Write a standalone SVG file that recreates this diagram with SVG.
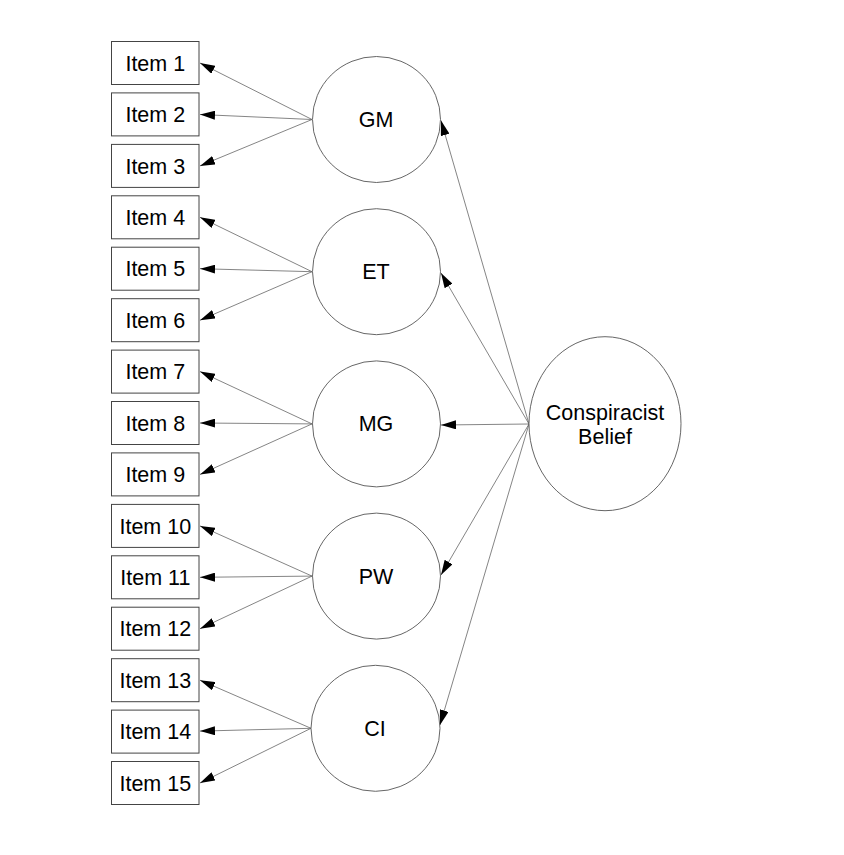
<svg xmlns="http://www.w3.org/2000/svg" width="844" height="855" viewBox="0 0 844 855">
<style>
.box{fill:#fff;stroke:#444;stroke-width:1}
.lat{fill:#fff;stroke:#555;stroke-width:0.9}
.t{font-family:"Liberation Sans",Arial,sans-serif;font-size:21.5px;fill:#000;text-anchor:middle}
.c{stroke:#666;stroke-width:0.8;fill:none;marker-end:url(#ah)}
</style>
<defs>
<marker id="ah" markerUnits="userSpaceOnUse" markerWidth="15" markerHeight="9" refX="15" refY="4.5" orient="auto" viewBox="0 0 15 9">
<path d="M0,0 L15,4.5 L0,9 z" fill="#000"/>
</marker>
</defs>
<rect width="844" height="855" fill="#fff"/>
<g id="connectors">
<line class="c" x1="312" y1="119.5" x2="200" y2="63"/>
<line class="c" x1="312" y1="119.5" x2="200" y2="114.5"/>
<line class="c" x1="312" y1="119.5" x2="200" y2="165.9"/>
<line class="c" x1="312" y1="271.7" x2="200" y2="217.3"/>
<line class="c" x1="312" y1="271.7" x2="200" y2="268.7"/>
<line class="c" x1="312" y1="271.7" x2="200" y2="320.2"/>
<line class="c" x1="312" y1="423.9" x2="200" y2="371.6"/>
<line class="c" x1="312" y1="423.9" x2="200" y2="423"/>
<line class="c" x1="312" y1="423.9" x2="200" y2="474.4"/>
<line class="c" x1="312" y1="576.1" x2="200" y2="525.9"/>
<line class="c" x1="312" y1="576.1" x2="200" y2="577.3"/>
<line class="c" x1="312" y1="576.1" x2="200" y2="628.7"/>
<line class="c" x1="311" y1="728.3" x2="200" y2="680.2"/>
<line class="c" x1="311" y1="728.3" x2="200" y2="731.1"/>
<line class="c" x1="311" y1="728.3" x2="200" y2="783"/>
<line class="c" x1="529" y1="424" x2="441" y2="120.5"/>
<line class="c" x1="529" y1="424" x2="441" y2="273"/>
<line class="c" x1="529" y1="424" x2="441" y2="425"/>
<line class="c" x1="529" y1="424" x2="441" y2="575"/>
<line class="c" x1="529" y1="424" x2="440" y2="725"/>
</g>
<g id="item1"><rect class="box" x="111.5" y="41.5" width="87.5" height="43"/><text class="t" x="155.3" y="70.7">Item 1</text></g>
<g id="item2"><rect class="box" x="111.5" y="92.9" width="87.5" height="43"/><text class="t" x="155.3" y="122.1">Item 2</text></g>
<g id="item3"><rect class="box" x="111.5" y="144.4" width="87.5" height="43"/><text class="t" x="155.3" y="173.6">Item 3</text></g>
<g id="item4"><rect class="box" x="111.5" y="195.8" width="87.5" height="43"/><text class="t" x="155.3" y="225">Item 4</text></g>
<g id="item5"><rect class="box" x="111.5" y="247.2" width="87.5" height="43"/><text class="t" x="155.3" y="276.4">Item 5</text></g>
<g id="item6"><rect class="box" x="111.5" y="298.7" width="87.5" height="43"/><text class="t" x="155.3" y="327.9">Item 6</text></g>
<g id="item7"><rect class="box" x="111.5" y="350.1" width="87.5" height="43"/><text class="t" x="155.3" y="379.3">Item 7</text></g>
<g id="item8"><rect class="box" x="111.5" y="401.5" width="87.5" height="43"/><text class="t" x="155.3" y="430.7">Item 8</text></g>
<g id="item9"><rect class="box" x="111.5" y="452.9" width="87.5" height="43"/><text class="t" x="155.3" y="482.1">Item 9</text></g>
<g id="item10"><rect class="box" x="111.5" y="504.4" width="87.5" height="43"/><text class="t" x="155.3" y="533.6">Item 10</text></g>
<g id="item11"><rect class="box" x="111.5" y="555.8" width="87.5" height="43"/><text class="t" x="155.3" y="585">Item 11</text></g>
<g id="item12"><rect class="box" x="111.5" y="607.2" width="87.5" height="43"/><text class="t" x="155.3" y="636.4">Item 12</text></g>
<g id="item13"><rect class="box" x="111.5" y="658.7" width="87.5" height="43"/><text class="t" x="155.3" y="687.9">Item 13</text></g>
<g id="item14"><rect class="box" x="111.5" y="710.1" width="87.5" height="43"/><text class="t" x="155.3" y="739.3">Item 14</text></g>
<g id="item15"><rect class="box" x="111.5" y="761.5" width="87.5" height="43"/><text class="t" x="155.3" y="790.7">Item 15</text></g>
<g id="GM"><ellipse class="lat" cx="376.5" cy="119.5" rx="64" ry="63"/><text class="t" x="376" y="126.9">GM</text></g>
<g id="ET"><ellipse class="lat" cx="376.5" cy="271.7" rx="64" ry="63"/><text class="t" x="376" y="279.1">ET</text></g>
<g id="MG"><ellipse class="lat" cx="376.5" cy="423.9" rx="64" ry="63"/><text class="t" x="376" y="431.3">MG</text></g>
<g id="PW"><ellipse class="lat" cx="376.5" cy="576.1" rx="64" ry="63"/><text class="t" x="376" y="583.5">PW</text></g>
<g id="CI"><ellipse class="lat" cx="375.5" cy="728.3" rx="64.5" ry="63"/><text class="t" x="375" y="735.7">CI</text></g>
<g id="CB"><ellipse class="lat" cx="605" cy="423.7" rx="76" ry="87"/><text class="t" x="605" y="419.5">Conspiracist</text><text class="t" x="605" y="443.5">Belief</text></g>
</svg>
